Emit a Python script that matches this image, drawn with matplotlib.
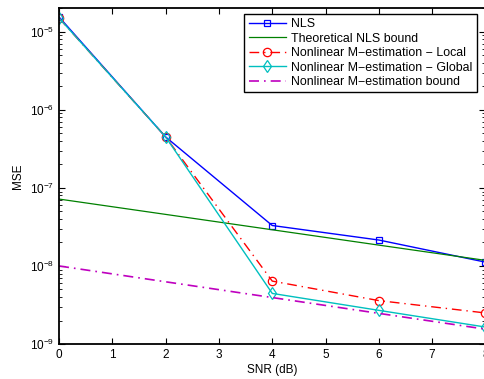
import numpy as np
import matplotlib
matplotlib.use('Agg')
import matplotlib.pyplot as plt

snr = [0, 2, 4, 6, 8]

nls = [1.55e-5, 4.5e-7, 3.3e-8, 2.15e-8, 1.12e-8]
nls_bound = [7.2e-8, 4.58e-8, 2.91e-8, 1.85e-8, 1.18e-8]
m_local = [1.5e-5, 4.5e-7, 6.4e-9, 3.6e-9, 2.5e-9]
m_global = [1.5e-5, 4.5e-7, 4.45e-9, 2.7e-9, 1.65e-9]
m_bound = [1.0e-8, 6.27e-9, 3.94e-9, 2.47e-9, 1.55e-9]

labels = ['NLS', 'Theoretical NLS bound', 'Nonlinear M\u2212estimation \u2212 Local',
          'Nonlinear M\u2212estimation \u2212 Global', 'Nonlinear M\u2212estimation bound']

plt.rcParams['font.family'] = ['Liberation Sans', 'DejaVu Sans']

fig = plt.figure(figsize=(4.84, 3.79), dpi=100)
ax = fig.add_axes([0.122, 0.0923, 0.881, 0.887])

ax.semilogy(snr, nls, '-s', color='#0000ff', lw=1.0, ms=5, mfc='none', mew=0.9, label=labels[0])
ax.semilogy(snr, nls_bound, '-', color='#008000', lw=0.9, label=labels[1])
ax.semilogy(snr, m_local, '-.o', color='#ff0000', lw=1.0, ms=6, mfc='none', mew=0.9,
            dashes=(7, 3.5, 1, 3.5), label=labels[2])
ax.semilogy(snr, m_global, '-d', color='#00bfbf', lw=1.0, ms=6, mfc='none', mew=0.9, label=labels[3])
ax.semilogy(snr, m_bound, '-.', color='#bf00bf', lw=1.2, dashes=(6, 3, 1, 3), label=labels[4])

ax.set_xlim(0, 8)
ax.set_ylim(1e-9, 2.03e-5)
ax.set_xticks(range(9))
ax.tick_params(which='both', direction='in', top=True, right=True, labelsize=8.5)
ax.tick_params(which='major', length=4)
ax.tick_params(which='minor', length=2)
for s in ax.spines.values():
    s.set_linewidth(1.3)

ax.set_xlabel('SNR (dB)', fontsize=8.5, labelpad=2)
ax.set_ylabel('MSE', fontsize=8.5, labelpad=4)

leg = ax.legend(loc='upper right', bbox_to_anchor=(0.98, 0.982), borderaxespad=0, fontsize=8.9,
                handlelength=3.0, borderpad=0.35, labelspacing=0.2, handletextpad=0.45,
                fancybox=False, framealpha=1, edgecolor='black')
leg.get_frame().set_linewidth(1.0)

fig.savefig('out.png', dpi=100)
